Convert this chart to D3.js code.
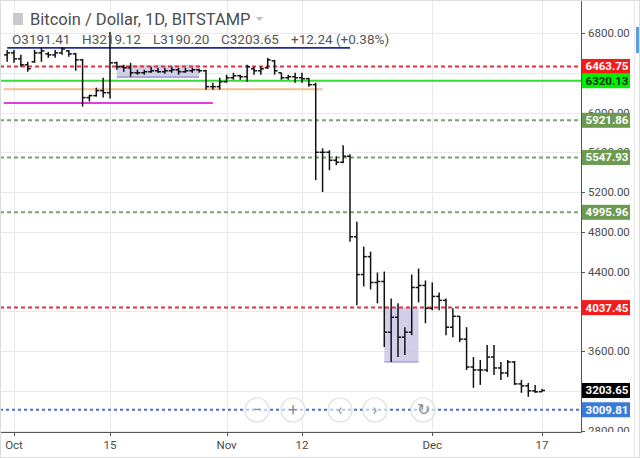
<!DOCTYPE html>
<html>
<head>
<meta charset="utf-8">
<script src="https://cdn.jsdelivr.net/npm/d3@7/dist/d3.min.js"></script>
<style>
  body { margin: 0; background: #fff; }
  svg { display: block; font-family: Roboto, "Liberation Sans", sans-serif; }
</style>
</head>
<body>
<svg id="chart" width="640" height="458"></svg>
<script>
// daily bars, first one is 30 Sep 2018
var firstDay = "2018-09-30";
var opens  = [6580,6600,6540,6480,6510,6600,6590,6580,6600,6620,6590,6530,6150,6170,6220,6200,6500,6460,6450,6400,
              6400,6410,6420,6410,6420,6430,6410,6420,6430,6420,6260,6260,6310,6350,6370,6360,6440,6420,6450,6520,
              6400,6350,6360,6350,6340,6280,5600,5600,5520,5500,5560,4750,4370,4550,4290,4300,3790,3940,3740,3790,
              4240,4260,4030,4150,4110,3840,3950,3720,3440,3410,3410,3540,3430,3380,3490,3270,3250,3200,3191.41];
var highs  = [6630,6630,6580,6510,6630,6650,6610,6630,6660,6630,6600,6540,6180,6250,6350,6810,6510,6480,6500,6430,
              6430,6460,6450,6450,6460,6450,6450,6450,6440,6430,6300,6350,6380,6400,6380,6480,6460,6460,6550,6530,
              6400,6380,6400,6400,6350,6300,5640,5620,5560,5670,5580,4900,4650,4600,4390,4400,4130,4080,3840,4370,
              4430,4310,4290,4190,4130,4030,3950,3840,3540,3510,3660,3660,3490,3510,3500,3310,3280,3260,3219.12];
var lows   = [6510,6500,6460,6410,6500,6510,6550,6550,6580,6560,6420,6060,6110,6160,6150,6140,6430,6410,6360,6380,
              6380,6400,6400,6390,6400,6380,6400,6400,6400,6230,6230,6230,6300,6330,6330,6310,6380,6380,6440,6380,
              6330,6330,6300,6300,6260,5320,5200,5420,5470,5490,4700,4060,4250,4220,4080,3640,3490,3540,3560,3760,
              4090,3880,4010,4010,3760,3740,3690,3410,3230,3260,3390,3360,3310,3340,3260,3180,3140,3180,3190.20];
var closes = [6600,6540,6480,6440,6600,6620,6580,6600,6640,6590,6530,6150,6170,6220,6200,6500,6460,6450,6400,6400,
              6410,6420,6410,6420,6430,6410,6420,6430,6420,6260,6260,6310,6350,6370,6360,6460,6420,6440,6530,6420,
              6350,6360,6350,6340,6280,5600,5600,5520,5500,5560,4750,4370,4550,4290,4300,3790,3940,3740,3790,4240,
              4260,4030,4150,4110,3840,3950,3720,3440,3410,3410,3540,3430,3380,3490,3270,3250,3200,3190,3203.65];

var priceTicks = [2800,3200,3600,4000,4400,4800,5200,5600,6000,6400,6800];
// axis labels that are not hidden behind the price tags
var priceLabels = [2800,3600,4400,4800,5200,5600,6000,6800];
var dateTicks  = ["2018-10-01","2018-10-15","2018-11-01","2018-11-12","2018-12-01","2018-12-17"];
var dateLabels = ["Oct","15","Nov","12","Dec","17"];

// horizontal levels drawn across the whole chart
var redLevels   = [6463.75, 4037.45];
var limeLevels  = [6320.13];
var oliveLevels = [5921.86, 5547.93, 4995.96];
var blueLevels  = [3009.81];
var lastPrice   = 3203.65;

// short lines drawn by hand on the left
var segPrices = [6650, 6234, 6096];
var segFrom   = ["2018-09-30T00:00:00Z","2018-09-29T12:00:00Z","2018-09-29T12:00:00Z"];
var segTo     = ["2018-11-19T00:00:00Z","2018-11-15T00:00:00Z","2018-10-30T00:00:00Z"];

// shaded boxes
var boxFrom   = ["2018-10-16","2018-11-24"];
var boxTo     = ["2018-10-28","2018-11-29"];
var boxTop    = [6478, 4037.45];
var boxBottom = [6357, 3490];

var header = "Bitcoin / Dollar, 1D, BITSTAMP";
var ohlcText = ["O3191.41","H3219.12","L3190.20","C3203.65","+12.24 (+0.38%)"];

var W = 640, H = 458, plotR = 581, plotB = 432;
var svg = d3.select("#chart");

var start = d3.isoParse(firstDay + "T00:00:00Z");
var bars = opens.map(function(o, i) {
  return {date: d3.utcDay.offset(start, i), o: o, h: highs[i], l: lows[i], c: closes[i]};
});

var x = d3.scaleUtc()
  .domain([d3.isoParse("2018-10-01T00:00:00Z"), d3.isoParse("2018-12-17T00:00:00Z")])
  .range([14, 542]);
var y = d3.scaleLinear().domain([2800, 6800]).range([430.6, 33]);
function day(s) { return d3.isoParse(s.length > 10 ? s : s + "T00:00:00Z"); }

svg.append("rect").attr("width", W).attr("height", H).attr("fill", "#fff");

svg.append("defs").append("clipPath").attr("id", "plotClip")
  .append("rect").attr("x", 0).attr("y", 0).attr("width", plotR).attr("height", plotB);
svg.select("defs").append("clipPath").attr("id", "axisClip")
  .append("rect").attr("x", plotR).attr("y", 0).attr("width", W - plotR).attr("height", plotB);

var plot = svg.append("g").attr("clip-path", "url(#plotClip)");

// grid
plot.selectAll(".hg").data(priceTicks).enter().append("line")
  .attr("x1", 0).attr("x2", plotR)
  .attr("y1", function(d) { return Math.round(y(d)) + 0.5; })
  .attr("y2", function(d) { return Math.round(y(d)) + 0.5; })
  .attr("stroke", "#e9e9ec");
plot.selectAll(".vg").data(dateTicks).enter().append("line")
  .attr("y1", 0).attr("y2", plotB)
  .attr("x1", function(d) { return Math.round(x(day(d))) + 0.5; })
  .attr("x2", function(d) { return Math.round(x(day(d))) + 0.5; })
  .attr("stroke", "#e9e9ec");

// boxes
plot.selectAll(".box").data(boxFrom).enter().append("rect")
  .attr("x", function(d) { return x(day(d)); })
  .attr("width", function(d, i) { return x(day(boxTo[i])) - x(day(d)); })
  .attr("y", function(d, i) { return y(boxTop[i]); })
  .attr("height", function(d, i) { return y(boxBottom[i]) - y(boxTop[i]); })
  .attr("fill", "#cbc6e6").attr("fill-opacity", 0.85);
plot.selectAll(".boxb").data(boxFrom).enter().append("line")
  .attr("x1", function(d) { return x(day(d)); })
  .attr("x2", function(d, i) { return x(day(boxTo[i])); })
  .attr("y1", function(d, i) { return y(boxBottom[i]); })
  .attr("y2", function(d, i) { return y(boxBottom[i]); })
  .attr("stroke", "#8f86c4").attr("stroke-width", 1.2);

// hand drawn segments
var segColors = ["#1f2c9c", "#efc18f", "#e03ce0"];
var segWidths = [1.6, 2, 2];
plot.selectAll(".seg").data(segPrices).enter().append("line")
  .attr("x1", function(d, i) { return x(day(segFrom[i])); })
  .attr("x2", function(d, i) { return x(day(segTo[i])); })
  .attr("y1", function(d) { return y(d); })
  .attr("y2", function(d) { return y(d); })
  .attr("stroke", function(d, i) { return segColors[i]; })
  .attr("stroke-width", function(d, i) { return segWidths[i]; });

// full width levels
function levelLines(vals, color, dash, width) {
  plot.selectAll(null).data(vals).enter().append("line")
    .attr("x1", 0).attr("x2", plotR)
    .attr("y1", function(d) { return y(d); })
    .attr("y2", function(d) { return y(d); })
    .attr("stroke", color).attr("stroke-width", width)
    .attr("stroke-dasharray", dash);
}
levelLines(redLevels, "#e2333d", "4,3", 2);
levelLines(limeLevels, "#33dd33", null, 2);
levelLines(oliveLevels, "#819f74", "4,3", 2);
levelLines(blueLevels, "#4a6fd2", "3,3", 1.8);

// OHLC bars
var g = plot.append("g").attr("stroke", "#111").attr("stroke-width", 1.5);
g.selectAll(".hl").data(bars).enter().append("line")
  .attr("x1", function(d) { return x(d.date); })
  .attr("x2", function(d) { return x(d.date); })
  .attr("y1", function(d) { return y(d.h); })
  .attr("y2", function(d) { return y(d.l); });
g.selectAll(".op").data(bars).enter().append("line")
  .attr("x1", function(d) { return x(d.date) - 3; })
  .attr("x2", function(d) { return x(d.date); })
  .attr("y1", function(d) { return y(d.o); })
  .attr("y2", function(d) { return y(d.o); });
g.selectAll(".cl").data(bars).enter().append("line")
  .attr("x1", function(d) { return x(d.date); })
  .attr("x2", function(d) { return x(d.date) + 3; })
  .attr("y1", function(d) { return y(d.c); })
  .attr("y2", function(d) { return y(d.c); });

// navigation buttons
var navX = [257, 293, 340, 375, 423];
var navSym = ["\u2212", "+", "\u2039", "\u203A", "\u21BB"];
var nav = svg.append("g");
nav.selectAll("circle").data(navX).enter().append("circle")
  .attr("cx", function(d) { return d; }).attr("cy", 410).attr("r", 12)
  .attr("fill", "#fff").attr("fill-opacity", 0.6).attr("stroke", "#dedede").attr("stroke-width", 1.2);
nav.selectAll("text").data(navX).enter().append("text")
  .attr("x", function(d) { return d; }).attr("y", 415)
  .attr("text-anchor", "middle").attr("font-size", 16).attr("fill", "#8c8c8c")
  .text(function(d, i) { return navSym[i]; });

// header
svg.append("rect").attr("x", 13).attr("y", 13).attr("width", 10).attr("height", 12).attr("fill", "#c9c9c9");
svg.append("text").attr("x", 30).attr("y", 24.5).attr("font-size", 16.5).attr("fill", "#4d4d4d").text(header);
svg.append("path").attr("d", "M256,17 L263,17 L259.5,21 Z").attr("fill", "#bcbcbc");
var ohlcX = [12, 82, 153, 221, 291];
svg.selectAll(".ohlc").data(ohlcText).enter().append("text")
  .attr("x", function(d, i) { return ohlcX[i]; }).attr("y", 44)
  .attr("font-size", 13.5).attr("fill", "#555")
  .text(function(d) { return d; });

// axes
svg.append("line").attr("x1", plotR + 0.5).attr("x2", plotR + 0.5).attr("y1", 0).attr("y2", plotB + 0.5)
  .attr("stroke", "#555");
svg.append("line").attr("x1", 0).attr("x2", plotR + 0.5).attr("y1", plotB + 0.5).attr("y2", plotB + 0.5)
  .attr("stroke", "#555");

var yAx = svg.append("g").attr("clip-path", "url(#axisClip)");
yAx.selectAll("line").data(priceTicks).enter().append("line")
  .attr("x1", plotR).attr("x2", plotR + 4)
  .attr("y1", function(d) { return Math.round(y(d)) + 0.5; })
  .attr("y2", function(d) { return Math.round(y(d)) + 0.5; })
  .attr("stroke", "#555");
yAx.selectAll("text").data(priceLabels).enter().append("text")
  .attr("x", 588).attr("y", function(d) { return y(d) + 4; })
  .attr("font-size", 11.5).attr("fill", "#4a4a4a")
  .text(function(d) { return d3.format(".2f")(d); });

var xAx = svg.append("g");
xAx.selectAll("line").data(dateTicks).enter().append("line")
  .attr("x1", function(d) { return Math.round(x(day(d))) + 0.5; })
  .attr("x2", function(d) { return Math.round(x(day(d))) + 0.5; })
  .attr("y1", plotB).attr("y2", plotB + 4).attr("stroke", "#555");
xAx.selectAll("text").data(dateTicks).enter().append("text")
  .attr("x", function(d) { return x(day(d)); }).attr("y", 449)
  .attr("text-anchor", "middle").attr("font-size", 11.5).attr("fill", "#4a4a4a")
  .text(function(d, i) { return dateLabels[i]; });

// price labels on the axis
function priceTag(vals, bg, fg) {
  var t = svg.selectAll(null).data(vals).enter().append("g")
    .attr("transform", function(d) { return "translate(" + (plotR + 1) + "," + y(d) + ")"; });
  t.append("rect").attr("x", 0).attr("y", -7.5).attr("width", 48).attr("height", 15).attr("fill", bg);
  t.append("text").attr("x", 25).attr("y", 4).attr("text-anchor", "middle")
    .attr("font-size", 11.5).attr("font-weight", "bold").attr("fill", fg)
    .text(function(d) { return d3.format(".2f")(d); });
}
priceTag(redLevels, "#f21c1c", "#fff");
priceTag(limeLevels, "#00f000", "#123012");
priceTag(oliveLevels, "#6b9a50", "#fff");
priceTag(blueLevels, "#3b7bd8", "#fff");
priceTag([lastPrice], "#000", "#fff");

// frame and scroll strip
svg.append("rect").attr("x", 0.5).attr("y", 0.5).attr("width", W - 1).attr("height", H - 1)
  .attr("fill", "none").attr("stroke", "#dcdcdc");
svg.append("line").attr("x1", 634.5).attr("x2", 634.5).attr("y1", 0).attr("y2", H).attr("stroke", "#e6e6e6");
svg.append("rect").attr("x", 636).attr("y", 27).attr("width", 3).attr("height", 26).attr("fill", "#5a9bd8");
</script>
</body>
</html>
